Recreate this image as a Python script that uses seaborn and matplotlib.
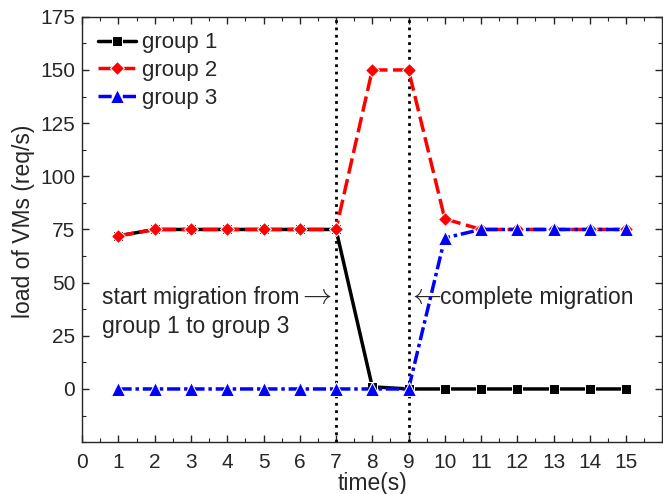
import numpy as np
import pandas as pd
import matplotlib
matplotlib.use("Agg")
import matplotlib.pyplot as plt
import seaborn as sns
from matplotlib.ticker import MultipleLocator

# 数据：每秒的负载
time_s = [1, 2, 3, 4, 5, 6, 7, 8, 9, 10, 11, 12, 13, 14, 15]
group1 = [72, 75, 75, 75, 75, 75, 75, 1, 0, 0, 0, 0, 0, 0, 0]
group2 = [72, 75, 75, 75, 75, 75, 75, 150, 150, 80, 75, 75, 75, 75, 75]
group3 = [0, 0, 0, 0, 0, 0, 0, 0, 0, 71, 75, 75, 75, 75, 75]
migration_marks = [7, 9]

sns.set_style("ticks")
plt.rcParams['font.family'] = ['Liberation Sans', 'DejaVu Sans']
plt.rcParams.update({
    'font.size': 15,
    'axes.labelsize': 16.5,
    'xtick.labelsize': 15,
    'ytick.labelsize': 15,
    'legend.fontsize': 16,
    'mathtext.fontset': 'cm',
})

fig = plt.figure(figsize=(6.63, 4.94), dpi=100)
ax = fig.add_axes([0.124, 0.105, 0.875, 0.861])

df = pd.DataFrame({'t': time_s, 'g1': group1, 'g2': group2, 'g3': group3})

sns.lineplot(data=df, x='t', y='g1', ax=ax, color='black', linestyle='-',
             marker='s', markersize=7, linewidth=2.5, label='group 1', zorder=3)
sns.lineplot(data=df, x='t', y='g2', ax=ax, color='red', linestyle=(0, (4.5, 1.6)),
             marker='D', markersize=7, linewidth=2.5, label='group 2', zorder=4)
sns.lineplot(data=df, x='t', y='g3', ax=ax, color='blue', linestyle=(0, (3.8, 1.1, 1, 1.1)),
             marker='^', markersize=10, linewidth=2.5, label='group 3', zorder=5)

for xm in migration_marks:
    ax.axvline(xm, color='black', linestyle=':', linewidth=2, zorder=2)

# 标注文字和箭头
ax.text(0.55, 43, 'start migration from', ha='left', va='center', fontsize=16.5)
ax.text(0.55, 29.5, 'group 1 to group 3', ha='left', va='center', fontsize=16.5)
ax.text(5.93, 44, '$\\rightarrow$', ha='left', va='center', fontsize=21)
ax.text(8.96, 44, '$\\leftarrow$', ha='left', va='center', fontsize=21)
ax.text(9.87, 43, 'complete migration', ha='left', va='center', fontsize=16.5)

ax.set_xlim(0, 16)
ax.set_ylim(-25, 175)
ax.set_xticks(range(0, 16))
ax.set_yticks([0, 25, 50, 75, 100, 125, 150, 175])
ax.xaxis.set_minor_locator(MultipleLocator(0.5))
ax.yaxis.set_minor_locator(MultipleLocator(12.5))
ax.tick_params(which='both', direction='in', top=True, right=True)
ax.tick_params(which='major', length=5, width=1, pad=5)
ax.tick_params(which='minor', length=3, width=0.8)
ax.tick_params(axis='x', which='major', pad=8)
for sp in ax.spines.values():
    sp.set_visible(True)
    sp.set_linewidth(1)

ax.set_xlabel('time(s)', labelpad=0)
ax.set_ylabel('load of VMs (req/s)')
ax.yaxis.set_label_coords(-0.082, 0.52)

ax.legend(loc='upper left', frameon=False, handlelength=1.7, handletextpad=0.3,
          borderaxespad=0.3, labelspacing=0.3)

fig.savefig('out.png', dpi=100)
